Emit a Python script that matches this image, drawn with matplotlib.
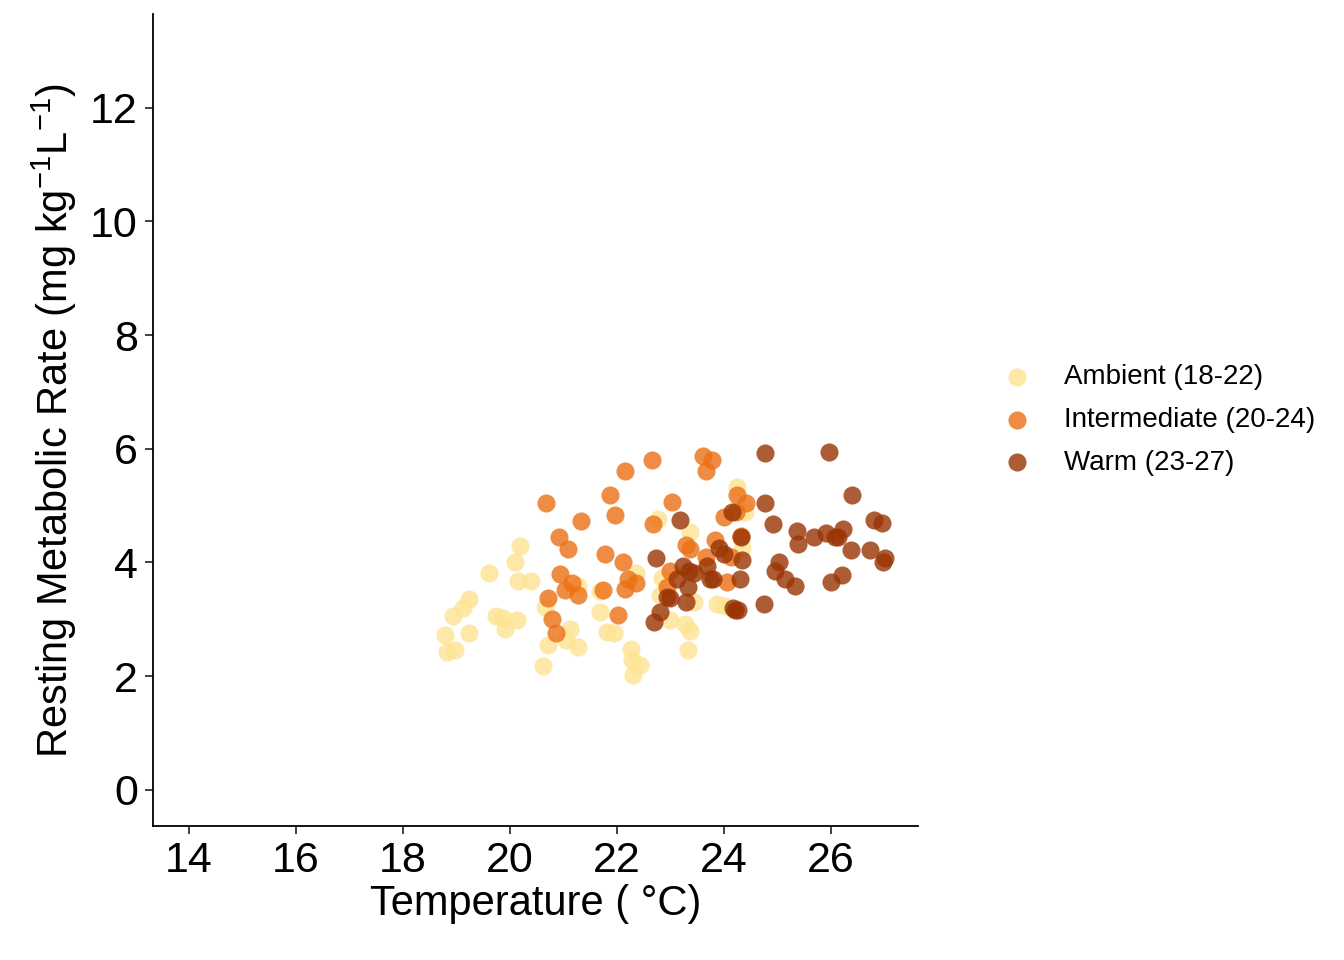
import matplotlib
matplotlib.use("Agg")
import matplotlib.pyplot as plt

plt.rcParams["font.family"] = ["Liberation Sans", "DejaVu Sans"]
plt.rcParams["mathtext.fontset"] = "custom"
plt.rcParams["mathtext.rm"] = "Liberation Sans"

amb_x = [18.79, 18.82, 18.93, 18.97, 19.12, 19.23, 19.23, 19.61, 19.74, 19.87, 19.91, 20.09, 20.15, 20.19,
         20.13, 20.39, 20.62, 20.65, 20.71, 21.05, 21.12, 21.27, 21.27, 21.68, 21.68, 21.81, 21.94, 22.26,
         22.28, 22.30, 22.43, 22.36, 22.77, 22.84, 22.99, 23.27, 23.33, 23.36, 23.36, 23.44, 23.87, 24.02,
         24.24, 24.39, 24.34, 23.64, 22.80]
amb_y = [2.73, 2.43, 3.05, 2.46, 3.20, 3.35, 2.76, 3.82, 3.06, 3.03, 2.82, 4.01, 3.68, 4.28,
         2.98, 3.68, 2.17, 3.22, 2.54, 2.64, 2.82, 2.52, 3.59, 3.13, 3.49, 2.78, 2.75, 2.48,
         2.29, 2.02, 2.20, 3.82, 4.77, 3.73, 2.99, 2.92, 2.46, 2.80, 4.54, 3.31, 3.26, 3.24,
         5.33, 4.89, 4.26, 3.84, 3.43]

int_x = [20.67, 20.71, 20.79, 20.86, 20.92, 20.93, 21.03, 21.08, 21.16, 21.27, 21.33, 21.74, 21.78, 21.87,
         21.96, 22.02, 22.11, 22.15, 22.15, 22.21, 22.36, 22.65, 22.67, 22.93, 23.03, 23.29, 23.36, 23.61,
         23.66, 23.78, 23.66, 23.83, 24.00, 24.06, 24.13, 24.24, 24.32, 24.41, 24.22, 22.99]
int_y = [5.04, 3.38, 3.01, 2.75, 4.45, 3.80, 3.52, 4.24, 3.63, 3.42, 4.72, 3.52, 4.14, 5.18,
         4.84, 3.08, 4.01, 5.60, 3.54, 3.70, 3.64, 5.81, 4.67, 3.56, 5.07, 4.31, 4.23, 5.88,
         5.60, 5.81, 4.10, 4.40, 4.79, 3.66, 4.10, 5.18, 4.47, 5.04, 4.89, 3.84]

warm_x = [22.69, 22.73, 22.80, 22.93, 22.99, 23.18, 23.12, 23.23, 23.29, 23.33, 23.35, 23.44, 23.68, 23.74,
          23.79, 23.91, 24.00, 24.15, 24.17, 24.21, 24.26, 24.30, 24.32, 24.34, 24.77, 24.77, 24.75, 24.92,
          24.95, 25.03, 25.14, 25.33, 25.36, 25.38, 25.68, 25.91, 25.96, 26.00, 26.07, 26.13, 26.21, 26.22,
          26.37, 26.39, 26.73, 26.80, 26.95, 27.01, 26.97]
warm_y = [2.96, 4.08, 3.13, 3.40, 3.38, 4.75, 3.70, 3.94, 3.31, 3.56, 3.84, 3.82, 3.94, 3.70,
          3.70, 4.26, 4.14, 4.89, 3.20, 3.17, 3.17, 3.70, 4.45, 4.05, 5.92, 5.04, 3.27, 4.67,
          3.84, 4.01, 3.70, 3.59, 4.56, 4.33, 4.45, 4.51, 5.95, 3.66, 4.45, 4.44, 3.77, 4.58,
          4.21, 5.18, 4.21, 4.74, 4.70, 4.08, 4.01]

groups = [
    ("Ambient (18-22)", amb_x, amb_y, "#FEE391"),
    ("Intermediate (20-24)", int_x, int_y, "#EC7014"),
    ("Warm (23-27)", warm_x, warm_y, "#993404"),
]

fig = plt.figure(figsize=(13.44, 9.6), dpi=100)
ax = fig.add_axes([0.114, 0.14, 0.569, 0.845])

for name, xs, ys, col in groups:
    ax.scatter(xs, ys, s=170, color=col, alpha=0.8, linewidths=0, label=name)

ax.set_xlim(13.33, 27.63)
ax.set_ylim(-0.63, 13.64)
ax.set_xticks(range(14, 27, 2))
ax.set_yticks(range(0, 13, 2))
ax.spines["top"].set_visible(False)
ax.spines["right"].set_visible(False)
ax.spines["left"].set_linewidth(1.3)
ax.spines["bottom"].set_linewidth(1.3)
ax.tick_params(labelsize=31, length=6, width=1.3, pad=5, colors="#333333", labelcolor="black")
ax.set_xlabel("Temperature ( °C)", fontsize=30, labelpad=2)
ax.set_ylabel("Resting Metabolic Rate (mg kg$^{-1}$L$^{-1}$)", fontsize=30, labelpad=8)

ax.legend(loc="center left", bbox_to_anchor=(1.06, 0.5), frameon=False, fontsize=20,
          handletextpad=0.7, labelspacing=0.6, markerscale=1.0)

fig.savefig("out.png", dpi=100)
